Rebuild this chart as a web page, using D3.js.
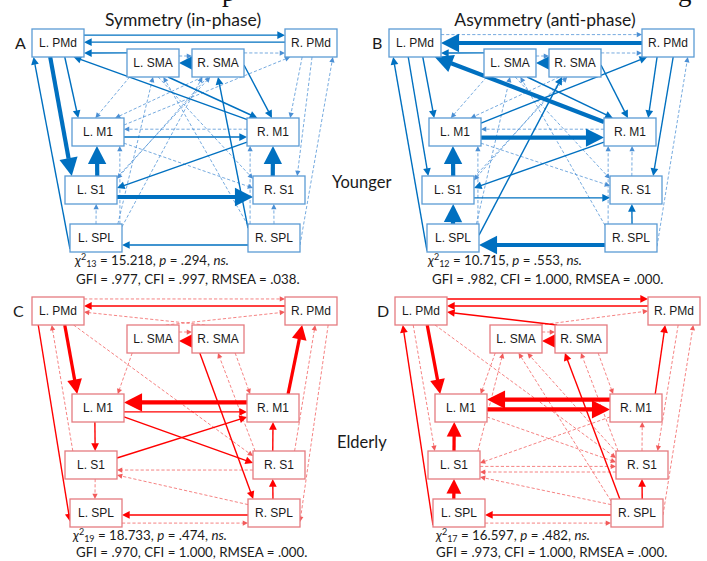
<!DOCTYPE html>
<html>
<head>
<meta charset="utf-8">
<script src="https://cdn.jsdelivr.net/npm/d3@7"></script>
<style>
  body { margin: 0; background: #fff; }
  svg { display: block; }
</style>
</head>
<body>
<script>
// ---- Regions of the network ----
const nodes = ["LPMd", "RPMd", "LSMA", "RSMA", "LM1", "RM1", "LS1", "RS1", "LSPL", "RSPL"];
const nodeLabels = ["L. PMd", "R. PMd", "L. SMA", "R. SMA", "L. M1", "R. M1", "L. S1", "R. S1", "L. SPL", "R. SPL"];

// ---- Panel texts ----
const panelLetters = ["A", "B", "C", "D"];
const conditionTitles = ["Symmetry (in-phase)", "Asymmetry (anti-phase)"];
const groupLabels = ["Younger", "Elderly"];
const chiDf = ["13", "12", "19", "17"];
const chiValue = ["15.218", "10.715", "18.733", "16.597"];
const pValue = [".294", ".553", ".474", ".482"];
const gfiValue = [".977", ".982", ".970", ".973"];
const cfiValue = [".997", "1.000", "1.000", "1.000"];
const rmseaValue = [".038", ".000", ".000", ".000"];

// ---- Paths: [from, to, strength (1 weak ... 4 strong), significant (1) or not (0)] ----
const edgesA = [
  ["LPMd","RPMd",1,1], ["RPMd","LPMd",1,1], ["LSMA","LPMd",1,1], ["RSMA","LSMA",4,1],
  ["LSMA","RSMA",0,0], ["RSMA","RPMd",0,0], ["LPMd","LM1",1,1], ["LPMd","LS1",4,1],
  ["LSPL","LPMd",1,1], ["RM1","LPMd",1,1], ["LSMA","RM1",1,1], ["RSMA","RM1",1,1],
  ["LM1","RM1",1,1], ["RM1","LM1",0,0], ["RM1","LS1",1,1], ["LS1","LM1",4,1],
  ["RS1","RM1",4,1], ["LS1","RS1",4,1], ["RSPL","LSPL",1,1], ["RSPL","RSMA",1,1],
  ["LSPL","LS1",0,0], ["RSPL","RS1",0,0], ["RSPL","RPMd",0,0], ["RPMd","RS1",0,0],
  ["RPMd","RM1",0,0], ["LM1","RPMd",0,0], ["LSMA","LM1",0,0], ["RSMA","LM1",0,0],
  ["LM1","RS1",0,0], ["LSPL","LM1",0,0], ["RSPL","RM1",0,0], ["LSPL","RSMA",0,0],
  ["RSPL","LSMA",0,0], ["LSPL","LSMA",0,0], ["LS1","RSMA",0,0], ["LSMA","RS1",0,0],
  ["RSMA","LS1",0,0]
];
const edgesB = [
  ["RPMd","LPMd",4,1], ["LPMd","RPMd",0,0], ["LSMA","LPMd",1,1], ["RSMA","LSMA",4,1],
  ["LSMA","RSMA",0,0], ["RSMA","RPMd",0,0], ["RM1","LPMd",4,1], ["LM1","RM1",4,1],
  ["RM1","LM1",0,0], ["LPMd","LM1",1,1], ["LPMd","LS1",1,1], ["LSPL","LPMd",1,1],
  ["LSMA","RM1",1,1], ["RSMA","RM1",1,1], ["LM1","RPMd",1,1], ["RPMd","RM1",1,1],
  ["RPMd","RS1",1,1], ["RM1","LS1",1,1], ["LS1","LM1",4,1], ["LSPL","LS1",4,1],
  ["LS1","RS1",1,1], ["RSPL","RS1",1,1], ["RSPL","LSPL",4,1], ["LSPL","RSMA",1,1],
  ["RS1","RM1",0,0], ["RSPL","RM1",0,0], ["LSPL","LM1",0,0], ["RSPL","RPMd",0,0],
  ["LSMA","LM1",0,0], ["RSMA","LM1",0,0], ["LM1","RS1",0,0], ["RSPL","LSMA",0,0],
  ["LSPL","LSMA",0,0], ["LSMA","RS1",0,0], ["RSMA","LS1",0,0], ["LS1","RSMA",0,0]
];
const edgesC = [
  ["RPMd","LPMd",1,1], ["LPMd","RPMd",0,0], ["RSMA","LPMd",0,0], ["LSMA","RPMd",0,0],
  ["LSMA","RSMA",0,0], ["RSMA","LSMA",4,1], ["LPMd","LM1",3,1], ["LPMd","LSPL",1,1],
  ["LS1","LPMd",0,0], ["LPMd","RS1",0,0], ["LSMA","LM1",0,0], ["RM1","LM1",4,1],
  ["LM1","RM1",1,1], ["RM1","RPMd",3,1], ["RSMA","RM1",0,0], ["RS1","RSMA",0,0],
  ["RSMA","RSPL",1,1], ["RS1","RPMd",0,0], ["RPMd","RSPL",0,0], ["LM1","LS1",1,1],
  ["LM1","RS1",1,1], ["LS1","RM1",1,1], ["RS1","RM1",1,1], ["RSPL","RS1",1,1],
  ["RS1","LS1",0,0], ["RSPL","LS1",0,0], ["LS1","LSPL",0,0], ["RSPL","LSPL",1,1],
  ["LSPL","RSPL",0,0]
];
const edgesD = [
  ["LPMd","RPMd",1,1], ["RPMd","LPMd",1,1], ["RSMA","LPMd",1,1], ["LSMA","RPMd",0,0],
  ["LSMA","RSMA",0,0], ["RSMA","LSMA",4,1], ["LPMd","LM1",3,1], ["LSPL","LPMd",1,1],
  ["LPMd","LS1",0,0], ["LPMd","RS1",0,0], ["RM1","LM1",4,1], ["LM1","RM1",4,1],
  ["RM1","RPMd",1,1], ["RSPL","RSMA",1,1], ["LS1","LM1",3,1], ["LSPL","LS1",3,1],
  ["RSPL","RS1",1,1], ["RS1","RM1",0,0], ["RSPL","LSPL",1,1], ["LSPL","RSPL",0,0],
  ["RS1","LS1",0,0], ["LS1","RS1",0,0], ["RSPL","LS1",0,0], ["RM1","LS1",0,0],
  ["LM1","RS1",0,0], ["RSMA","RM1",0,0], ["RS1","RSMA",0,0], ["LSMA","LM1",0,0],
  ["LS1","LSMA",0,0], ["RSPL","LSMA",0,0], ["RS1","LSMA",0,0], ["RPMd","RS1",0,0],
  ["RSPL","RPMd",0,0]
];

// ---- Layout ----
const W = 707, H = 561;
const boxW = 52, boxH = 28;
const boxLeft = { LPMd: 32, RPMd: 285, LSMA: 127, RSMA: 192, LM1: 72, RM1: 247, LS1: 65, RS1: 253, LSPL: 70, RSPL: 248 };
const rowTop = {
  top:    { PMd: 29,  SMA: 49,  M1: 118, S1: 176, SPL: 224 },
  bottom: { PMd: 297, SMA: 325, M1: 394, S1: 451, SPL: 499 }
};

// attachment points on the boxes, as fractions of box width/height: [src fx, src fy, dst fx, dst fy]
const portsA = {
  "LPMd>RPMd":[1,.22,0,.22], "RPMd>LPMd":[0,.47,1,.47], "LSMA>LPMd":[0,.14,1,.86],
  "RSMA>LSMA":[0,.5,1,.5], "LSMA>RSMA":[1,.25,0,.25], "RSMA>RPMd":[1,.14,0,.86],
  "LPMd>LM1":[.63,1,.12,0], "LPMd>LS1":[.35,1,.13,0], "LSPL>LPMd":[0,.9,.03,1],
  "RM1>LPMd":[.02,.07,.8,1], "LSMA>RM1":[.79,1,.2,0], "RSMA>RM1":[1,.57,.48,0],
  "LM1>RM1":[1,.68,0,.68], "RM1>LM1":[0,.4,1,.4], "RM1>LS1":[0,.86,1,.43],
  "LS1>LM1":[.62,0,.48,1], "RS1>RM1":[.38,0,.5,1], "LS1>RS1":[1,.75,0,.75],
  "RSPL>LSPL":[0,.75,1,.75], "RSPL>RSMA":[0,.15,.5,1], "LSPL>LS1":[.5,0,.6,1],
  "RSPL>RS1":[.5,0,.4,1], "RSPL>RPMd":[1,.75,.92,1], "RPMd>RS1":[.52,1,.85,0],
  "RPMd>RM1":[.33,1,.83,0], "LM1>RPMd":[1,.25,.1,1], "LSMA>LM1":[.05,1,.45,0],
  "RSMA>LM1":[.2,1,.83,0], "LM1>RS1":[1,.9,0,.43], "LSPL>LM1":[.96,0,.92,1],
  "RSPL>RM1":[.04,0,.06,1], "LSPL>RSMA":[1,.1,.2,1], "RSPL>LSMA":[0,.05,.7,1],
  "LSPL>LSMA":[.92,0,.5,1], "LS1>RSMA":[1,.05,.35,1], "LSMA>RS1":[.6,1,0,.1],
  "RSMA>LS1":[.3,1,1,.1]
};
const portsB = {
  "RPMd>LPMd":[0,.5,1,.5], "LPMd>RPMd":[1,.2,0,.2], "LSMA>LPMd":[0,.14,1,.86],
  "RSMA>LSMA":[0,.5,1,.5], "LSMA>RSMA":[1,.25,0,.25], "RSMA>RPMd":[1,.14,0,.86],
  "RM1>LPMd":[0,.14,.88,1], "LM1>RM1":[1,.7,0,.7], "RM1>LM1":[0,.4,1,.4],
  "LPMd>LM1":[.65,1,.1,0], "LPMd>LS1":[.37,1,.12,0], "LSPL>LPMd":[0,.95,.08,1],
  "LSMA>RM1":[.83,1,.17,0], "RSMA>RM1":[1,.57,.46,0], "LM1>RPMd":[1,.18,.1,1],
  "RPMd>RM1":[.29,1,.85,0], "RPMd>RS1":[.6,1,.83,0], "RM1>LS1":[0,.86,1,.43],
  "LS1>LM1":[.6,0,.46,1], "LSPL>LS1":[.5,0,.6,1], "LS1>RS1":[1,.78,0,.78],
  "RSPL>RS1":[.52,0,.42,1], "RSPL>LSPL":[0,.75,1,.75], "LSPL>RSMA":[1,.4,.25,1],
  "RS1>RM1":[.42,0,.54,1], "RSPL>RM1":[.06,0,.08,1], "LSPL>LM1":[.98,0,.94,1],
  "RSPL>RPMd":[1,.8,.88,1], "LSMA>LM1":[.05,1,.42,0], "RSMA>LM1":[.2,1,.8,0],
  "LM1>RS1":[1,.9,0,.35], "RSPL>LSMA":[0,.05,.7,1], "LSPL>LSMA":[.95,0,.5,1],
  "LSMA>RS1":[.6,1,0,.1], "RSMA>LS1":[.3,1,1,.15], "LS1>RSMA":[1,.05,.35,1]
};
const portsC = {
  "RPMd>LPMd":[0,.32,1,.32], "LPMd>RPMd":[1,.07,0,.07], "RSMA>LPMd":[.25,0,1,.54],
  "LSMA>RPMd":[.75,0,0,.54], "LSMA>RSMA":[1,.25,0,.25], "RSMA>LSMA":[0,.57,1,.57],
  "LPMd>LM1":[.63,1,.1,0], "LPMd>LSPL":[.12,1,0,.8], "LS1>LPMd":[.15,0,.38,1],
  "LPMd>RS1":[.8,1,0,.18], "LSMA>LM1":[.1,1,.88,0], "RM1>LM1":[0,.3,1,.3],
  "LM1>RM1":[1,.64,0,.64], "RM1>RPMd":[.79,0,.33,1], "RSMA>RM1":[.83,1,.06,0],
  "RS1>RSMA":[.04,0,.5,1], "RSMA>RSPL":[.15,1,.1,0], "RS1>RPMd":[.8,0,.58,1],
  "RPMd>RSPL":[.83,1,1,.82], "LM1>LS1":[.44,1,.58,0], "LM1>RS1":[1,.82,0,.43],
  "LS1>RM1":[1,.25,0,.82], "RS1>RM1":[.38,0,.5,1], "RSPL>RS1":[.48,0,.38,1],
  "RS1>LS1":[0,.68,1,.68], "RSPL>LS1":[0,.2,1,.86], "LS1>LSPL":[.58,1,.48,0],
  "RSPL>LSPL":[0,.57,1,.57], "LSPL>RSPL":[1,.86,0,.86]
};
const portsD = {
  "LPMd>RPMd":[1,.07,0,.07], "RPMd>LPMd":[0,.32,1,.32], "RSMA>LPMd":[.04,0,1,.54],
  "LSMA>RPMd":[.96,0,0,.5], "LSMA>RSMA":[1,.25,0,.25], "RSMA>LSMA":[0,.57,1,.57],
  "LPMd>LM1":[.62,1,.1,0], "LSPL>LPMd":[0,.93,.15,1], "LPMd>LS1":[.35,1,.13,0],
  "LPMd>RS1":[.77,1,0,.25], "RM1>LM1":[0,.2,1,.2], "LM1>RM1":[1,.55,0,.55],
  "RM1>RPMd":[.87,0,.33,1], "RSPL>RSMA":[.17,0,.19,1], "LS1>LM1":[.5,0,.37,1],
  "LSPL>LS1":[.4,0,.5,1], "RSPL>RS1":[.6,0,.5,1], "RS1>RM1":[.5,0,.62,1],
  "RSPL>LSPL":[0,.57,1,.57], "LSPL>RSPL":[1,.86,0,.86], "RS1>LS1":[0,.75,1,.75],
  "LS1>RS1":[1,.55,0,.55], "RSPL>LS1":[0,.2,1,.93], "RM1>LS1":[0,.82,1,.43],
  "LM1>RS1":[1,.82,0,.4], "RSMA>RM1":[.83,1,.06,0], "RS1>RSMA":[.04,0,.5,1],
  "LSMA>LM1":[.1,1,.88,0], "LS1>LSMA":[.96,0,.25,1], "RSPL>LSMA":[0,.07,.55,1],
  "RS1>LSMA":[.02,.07,.72,1], "RPMd>RS1":[.58,1,.8,0], "RSPL>RPMd":[1,.57,.87,1]
};

const themes = {
  blue: { solid: "#0070c0", dashed: "#4a8fd4", box: "#5b9bd5" },
  red:  { solid: "#ff0000", dashed: "#f25a5a", box: "#e57b80" }
};

const panels = [
  { edges: edgesA, ports: portsA, dx: 0,   rows: "top",    theme: themes.blue },
  { edges: edgesB, ports: portsB, dx: 357, rows: "top",    theme: themes.blue },
  { edges: edgesC, ports: portsC, dx: 0,   rows: "bottom", theme: themes.red },
  { edges: edgesD, ports: portsD, dx: 363, rows: "bottom", theme: themes.red }
];

// stroke width of a significant path from its strength
const widthScale = d3.scaleLinear().domain([1, 4]).range([1.4, 4.2]);
const dashedWidth = 0.75;

const svg = d3.select("body").append("svg")
  .attr("width", W).attr("height", H)
  .attr("viewBox", `0 0 ${W} ${H}`);

const sans = "Lato, 'Open Sans', sans-serif";
const arial = "'Liberation Sans', Arial, sans-serif";

// caption line running above the figure (only its descenders fall inside)
svg.append("text").attr("x", 222).attr("y", 1)
  .attr("font-family", "'Liberation Serif', serif").attr("font-size", 27).attr("fill", "#111")
  .text("p");
svg.append("text").attr("x", 678).attr("y", 1)
  .attr("font-family", "'Liberation Serif', serif").attr("font-size", 27).attr("fill", "#111")
  .text("g");

const rowOf = n => n.slice(1);
function point(panel, n, fx, fy) {
  const x0 = boxLeft[n] + panel.dx;
  const y0 = rowTop[panel.rows][rowOf(n)];
  return [x0 + fx * boxW, y0 + fy * boxH];
}
function autoPorts(panel, s, t) {
  // center-to-center line clipped at both boxes
  const cs = point(panel, s, .5, .5), ct = point(panel, t, .5, .5);
  const dx = ct[0] - cs[0], dy = ct[1] - cs[1];
  const k = 1 / Math.max(Math.abs(dx) / (boxW / 2), Math.abs(dy) / (boxH / 2));
  return [.5 + k * dx / boxW, .5 + k * dy / boxH, .5 - k * dx / boxW, .5 - k * dy / boxH];
}

panels.forEach((panel) => {
  const g = svg.append("g");
  const gEdges = g.append("g");
  // draw non-significant paths first, strong ones on top
  const ordered = panel.edges.slice().sort((a, b) => (a[3] - b[3]) || (a[2] - b[2]));
  ordered.forEach(([s, t, strength, sig]) => {
    const p = panel.ports[s + ">" + t] || autoPorts(panel, s, t);
    const S = point(panel, s, p[0], p[1]);
    const T = point(panel, t, p[2], p[3]);
    const w = sig ? widthScale(strength) : dashedWidth;
    const color = sig ? panel.theme.solid : panel.theme.dashed;
    const len = 2.5 + 3.7 * w, half = 1.2 + 1.9 * w;
    const dx = T[0] - S[0], dy = T[1] - S[1];
    const d = Math.hypot(dx, dy);
    const ux = dx / d, uy = dy / d;
    const B = [T[0] - ux * len, T[1] - uy * len];
    gEdges.append("line")
      .attr("x1", S[0]).attr("y1", S[1])
      .attr("x2", B[0] + ux * 0.5).attr("y2", B[1] + uy * 0.5)
      .attr("stroke", color).attr("stroke-width", w)
      .attr("stroke-dasharray", sig ? null : "3.2,2");
    gEdges.append("polygon")
      .attr("points", [
        T,
        [B[0] - uy * half, B[1] + ux * half],
        [B[0] + uy * half, B[1] - ux * half]
      ].map(q => q.join(",")).join(" "))
      .attr("fill", color);
  });

  const gBoxes = g.append("g");
  nodes.forEach((n, i) => {
    const [x, y] = point(panel, n, 0, 0);
    gBoxes.append("rect")
      .attr("x", x).attr("y", y).attr("width", boxW).attr("height", boxH)
      .attr("fill", "#fff").attr("stroke", panel.theme.box).attr("stroke-width", 1.3);
    gBoxes.append("text")
      .attr("x", x + boxW / 2).attr("y", y + boxH / 2 + 4.3)
      .attr("text-anchor", "middle")
      .attr("font-family", arial).attr("font-size", 12).attr("fill", "#1a1a1a")
      .text(nodeLabels[i]);
  });
});

// condition titles
[[183, conditionTitles[0]], [545, conditionTitles[1]]].forEach(([x, t]) => {
  svg.append("text").attr("x", x).attr("y", 26).attr("text-anchor", "middle")
    .attr("font-family", sans).attr("font-size", 17.5).attr("fill", "#1a1a1a").text(t);
});

// panel letters
[[15, 49], [372, 49], [13, 317], [377, 317]].forEach(([x, y], i) => {
  svg.append("text").attr("x", x).attr("y", y)
    .attr("font-family", sans).attr("font-size", 16).attr("fill", "#1a1a1a").text(panelLetters[i]);
});

// group labels
[[332, 188], [337, 448]].forEach(([x, y], i) => {
  svg.append("text").attr("x", x).attr("y", y)
    .attr("font-family", sans).attr("font-size", 16.5).attr("fill", "#1a1a1a").text(groupLabels[i]);
});

// model fit statistics
const fitPos = [[75, 265, 76, 284], [428, 265, 432, 284], [73, 540, 76, 557], [436, 540, 436, 557]];
fitPos.forEach(([x1, y1, x2, y2], i) => {
  const t1 = svg.append("text").attr("x", x1).attr("y", y1)
    .attr("font-family", sans).attr("font-size", 13.3).attr("fill", "#1a1a1a");
  t1.append("tspan").attr("font-style", "italic").text("χ");
  t1.append("tspan").attr("font-size", 9).attr("dy", -5).text("2");
  t1.append("tspan").attr("font-size", 9).attr("dy", 7).text(chiDf[i]);
  t1.append("tspan").attr("dy", -2).text(` = ${chiValue[i]}, `);
  t1.append("tspan").attr("font-style", "italic").text("p");
  t1.append("tspan").text(` = ${pValue[i]}, `);
  t1.append("tspan").attr("font-style", "italic").text("ns.");

  svg.append("text").attr("x", x2).attr("y", y2)
    .attr("font-family", sans).attr("font-size", 13.3).attr("fill", "#1a1a1a")
    .text(`GFI = ${gfiValue[i]}, CFI = ${cfiValue[i]}, RMSEA = ${rmseaValue[i]}.`);
});
</script>
</body>
</html>
